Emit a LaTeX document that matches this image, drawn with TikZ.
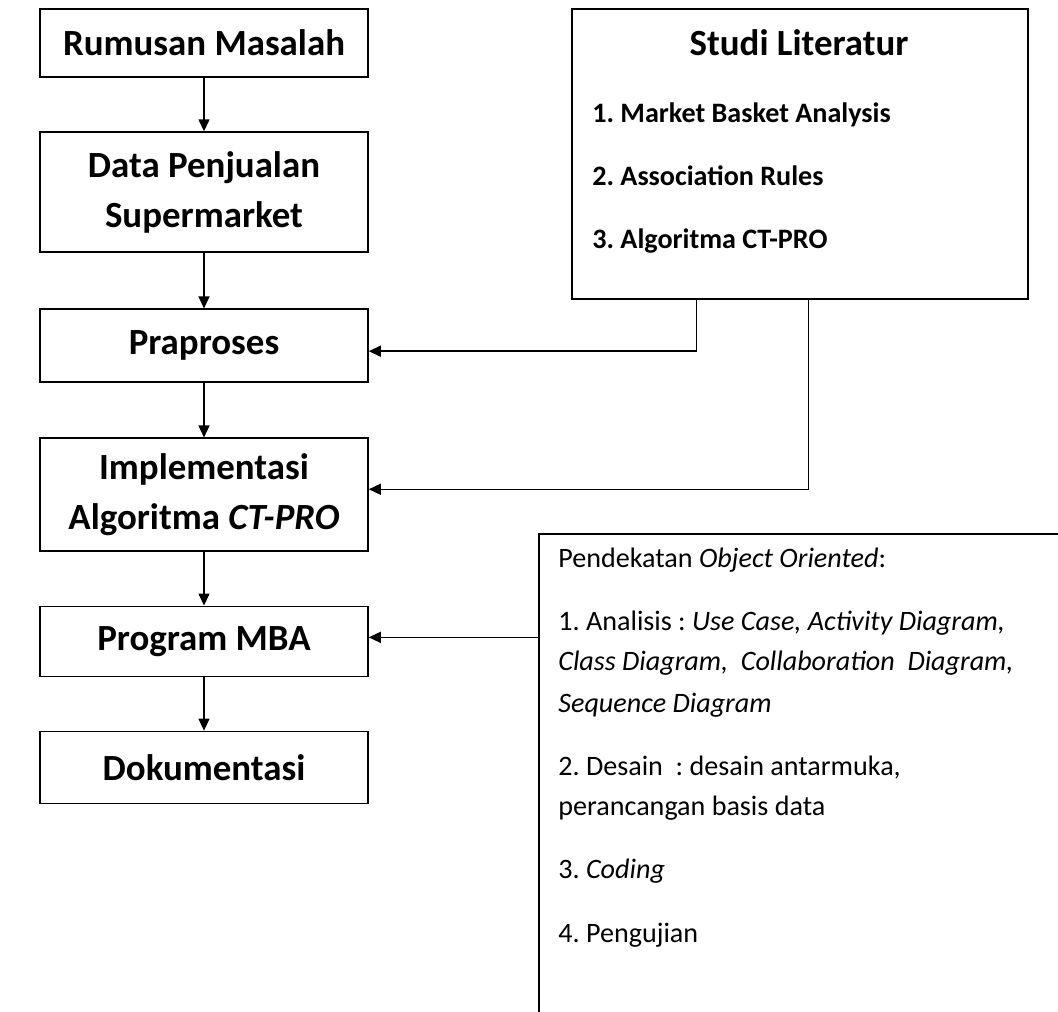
\documentclass[tikz,border=0pt]{standalone}
\usepackage{fontspec}
\setmainfont{Carlito}
\usepackage{tikz}
\usetikzlibrary{positioning}
\usetikzlibrary{arrows.meta}
\frenchspacing

\begin{document}
\begin{tikzpicture}[>={Triangle[length=0.24cm,width=0.22cm]},
	box/.style={draw,line width=0.9pt,minimum width=6.56cm,align=center,font=\fontsize{21}{28.6}\selectfont\bfseries},
	littext/.style={anchor=base west,inner sep=0pt,font=\fontsize{16}{19}\selectfont\bfseries},
	ootext/.style={anchor=base west,inner sep=0pt,font=\fontsize{16}{19}\selectfont}]
	
	\useasboundingbox (0cm,0cm) rectangle (21.16cm,-20.22cm);
	
	% main flow
	\node[box,minimum height=1.36cm] (rumusan) at (4.08cm,-0.86cm) {Rumusan Masalah};
	\node[box,minimum height=2.4cm] (data) [below=1.07cm of rumusan] {Data Penjualan\\Supermarket};
	\node[box,minimum height=1.46cm] (praproses) [below=1.11cm of data] {Praproses};
	\node[box,minimum height=2.26cm] (implementasi) [below=1.09cm of praproses] {Implementasi\\Algoritma \textit{CT-PRO}};
	\node[box,minimum height=1.4cm] (program) [below=1.07cm of implementasi] {Program MBA};
	\node[box,minimum height=1.44cm] (dokumentasi) [below=1.07cm of program] {Dokumentasi};
	
	%arrows down
	\draw[->,line width=0.8pt] (rumusan) -- (data);
	\draw[->,line width=0.8pt] (data) -- (praproses);
	\draw[->,line width=0.8pt] (praproses) -- (implementasi);
	\draw[->,line width=0.8pt] (implementasi) -- (program);
	\draw[->,line width=0.8pt] (program) -- (dokumentasi);
	
	%studi literatur
	\node[draw,line width=0.9pt,minimum width=9.12cm,minimum height=5.8cm] (studi) at (16.0cm,-3.08cm) {};
	\node[anchor=base,inner sep=0pt,font=\fontsize{21}{27.3}\selectfont\bfseries] (studititle) at (15.98cm,-1.1cm) {Studi Literatur};
	\node[littext] (lit1) at (11.84cm,-2.44cm) {1. Market Basket Analysis};
	\node[littext] (lit2) at (11.84cm,-3.7cm) {2. Association Rules};
	\node[littext] (lit3) at (11.84cm,-4.96cm) {3. Algoritma CT-PRO};
	
	\draw[->,line width=0.8pt] ([xshift=2.5cm]studi.south west) |- ([yshift=-0.11cm]praproses.east);
	\draw[->,line width=0.8pt] ([xshift=4.74cm]studi.south west) |- ([yshift=0.11cm]implementasi.east);
	
	%object oriented
	\node[draw,line width=0.9pt,anchor=north west,minimum width=11cm,minimum height=10.5cm] (oo) at (10.76cm,-10.66cm) {};
	\node[ootext] (oo0) at (11.16cm,-11.34cm) {Pendekatan \textit{Object Oriented}:};
	\node[ootext] (oo1) at (11.16cm,-12.6cm) {1. Analisis : \textit{Use Case, Activity Diagram,}};
	\node[ootext] (oo2) at (11.16cm,-13.4cm) {\textit{Class Diagram,\ \ Collaboration\ \ Diagram,}};
	\node[ootext] (oo3) at (11.16cm,-14.24cm) {\textit{Sequence Diagram}};
	\node[ootext] (oo4) at (11.16cm,-15.5cm) {2. Desain\ \ : desain antarmuka,};
	\node[ootext] (oo5) at (11.16cm,-16.3cm) {perancangan basis data};
	\node[ootext] (oo6) at (11.16cm,-17.56cm) {3. \textit{Coding}};
	\node[ootext] (oo7) at (11.16cm,-18.84cm) {4. Pengujian};
	
	\coordinate (ooin) at ([yshift=0.08cm]program.east);
	\draw[->,line width=0.8pt] (oo.west |- ooin) -- (ooin);
	
\end{tikzpicture}
\end{document}
